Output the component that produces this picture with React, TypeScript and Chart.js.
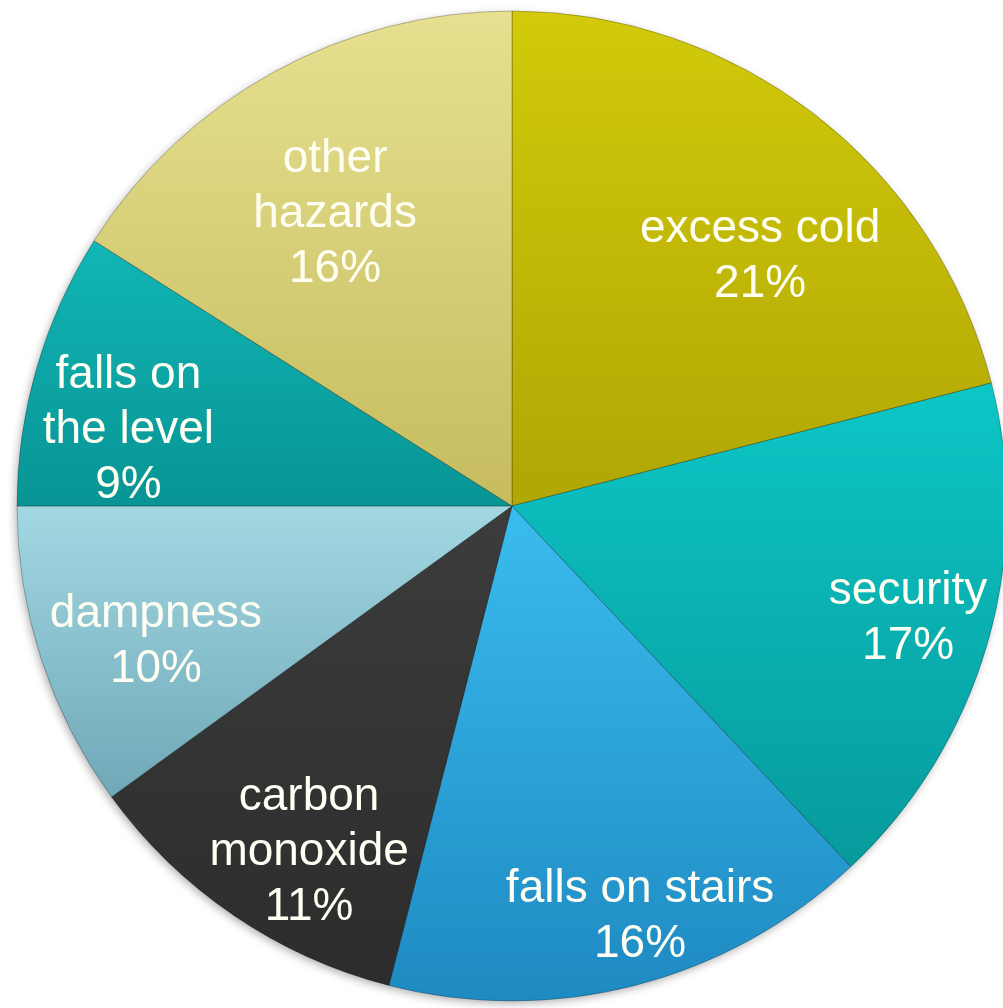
import React, { useEffect, useRef } from "react";
import { Chart, registerables } from "chart.js";

Chart.register(...registerables);

const categories = [
  "excess cold",
  "security",
  "falls on stairs",
  "carbon\nmonoxide",
  "dampness",
  "falls on\nthe level",
  "other\nhazards",
];
const values = [21, 17, 16, 11, 10, 9, 16];
const topColors = ["#D2CA0A", "#0DC6C6", "#3ABCEE", "#3C3C3C", "#A2D8E2", "#12B6B6", "#E6E090"];
const bottomColors = ["#B0A605", "#079A9C", "#1E8AC2", "#2C2C2C", "#70A8B8", "#089494", "#C6BC5E"];
const labelRadius = [0.71, 0.832, 0.87, 0.81, 0.77, 0.79, 0.69];
const labelShiftDeg = [7.1, -0.3, -2.9, -3.8, -2.9, -5, -2.4];

const PIE_RADIUS = 495;

function sliceExtent(i: number, cy: number, r: number) {
  const total = values.reduce((a, b) => a + b, 0);
  let cum = 0;
  for (let k = 0; k < i; k++) cum += values[k];
  const a0 = -Math.PI / 2 + (cum / total) * Math.PI * 2;
  const a1 = -Math.PI / 2 + ((cum + values[i]) / total) * Math.PI * 2;
  const ys = [cy, cy + Math.sin(a0) * r, cy + Math.sin(a1) * r];
  const inArc = (t: number) => {
    for (let k = -1; k <= 2; k++) {
      const tt = t + k * 2 * Math.PI;
      if (tt >= a0 && tt <= a1) return true;
    }
    return false;
  };
  if (inArc(-Math.PI / 2)) ys.push(cy - r);
  if (inArc(Math.PI / 2)) ys.push(cy + r);
  return [Math.min(...ys), Math.max(...ys)];
}

const shadowPlugin = {
  id: "pieShadow",
  beforeDatasetsDraw(chart: any) {
    const meta = chart.getDatasetMeta(0);
    const arc = meta.data[0];
    if (!arc) return;
    const { x, y, outerRadius } = arc.getProps(["x", "y", "outerRadius"], true);
    const ctx = chart.ctx;
    ctx.save();
    ctx.shadowColor = "rgba(0,0,0,0.35)";
    ctx.shadowBlur = 10;
    ctx.shadowOffsetX = -2;
    ctx.shadowOffsetY = 3;
    ctx.fillStyle = "#888";
    ctx.beginPath();
    ctx.arc(x, y, outerRadius - 1, 0, Math.PI * 2);
    ctx.fill();
    ctx.restore();
  },
};

const labelPlugin = {
  id: "sliceLabels",
  afterDatasetsDraw(chart: any) {
    const meta = chart.getDatasetMeta(0);
    const ctx = chart.ctx;
    const total = values.reduce((a, b) => a + b, 0);
    ctx.save();
    ctx.font = "46px 'Liberation Sans', Arial, sans-serif";
    ctx.fillStyle = "#FFFEF2";
    ctx.textAlign = "center";
    ctx.textBaseline = "middle";
    const lh = 55;
    meta.data.forEach((arc: any, i: number) => {
      const { x, y, startAngle, endAngle, outerRadius } = arc.getProps(
        ["x", "y", "startAngle", "endAngle", "outerRadius"],
        true
      );
      const mid = (startAngle + endAngle) / 2 + (labelShiftDeg[i] * Math.PI) / 180;
      const px = x + Math.cos(mid) * outerRadius * labelRadius[i];
      const py = y + Math.sin(mid) * outerRadius * labelRadius[i];
      const lines = categories[i].split("\n");
      lines.push(Math.round((values[i] / total) * 100) + "%");
      const n = lines.length;
      lines.forEach((t, j) => {
        ctx.fillText(t, px, py + (j - (n - 1) / 2) * lh);
      });
    });
    ctx.restore();
  },
};

export default function App() {
  const ref = useRef<HTMLCanvasElement | null>(null);
  useEffect(() => {
    if (!ref.current) return;
    const chart = new Chart(ref.current, {
      type: "pie",
      data: {
        labels: categories.map((c) => c.replace("\n", " ")),
        datasets: [
          {
            data: values,
            backgroundColor: (c: any) => {
              const ch = c.chart;
              const area = ch.chartArea;
              const i = c.dataIndex;
              if (!area || i === undefined) return topColors[i ?? 0];
              const cy = (area.top + area.bottom) / 2;
              const [y0, y1] = sliceExtent(i, cy, PIE_RADIUS);
              const g = ch.ctx.createLinearGradient(0, y0, 0, y1);
              g.addColorStop(0, topColors[i]);
              g.addColorStop(1, bottomColors[i]);
              return g;
            },
            borderColor: "rgba(0,0,0,0.25)",
            borderWidth: 1,
            radius: PIE_RADIUS,
            clip: false,
          } as any,
        ],
      },
      options: {
        responsive: false,
        animation: false,
        layout: { padding: { left: 21, right: 0, top: 4, bottom: 0 } },
        plugins: {
          legend: { display: false },
          tooltip: { enabled: false },
        },
      },
      plugins: [shadowPlugin, labelPlugin],
    });
    return () => chart.destroy();
  }, []);
  return (
    <div style={{ position: "absolute", left: 0, top: 0, width: 1003, height: 1008, background: "#fff" }}>
      <canvas ref={ref} width={1003} height={1008} style={{ display: "block" }} />
    </div>
  );
}
